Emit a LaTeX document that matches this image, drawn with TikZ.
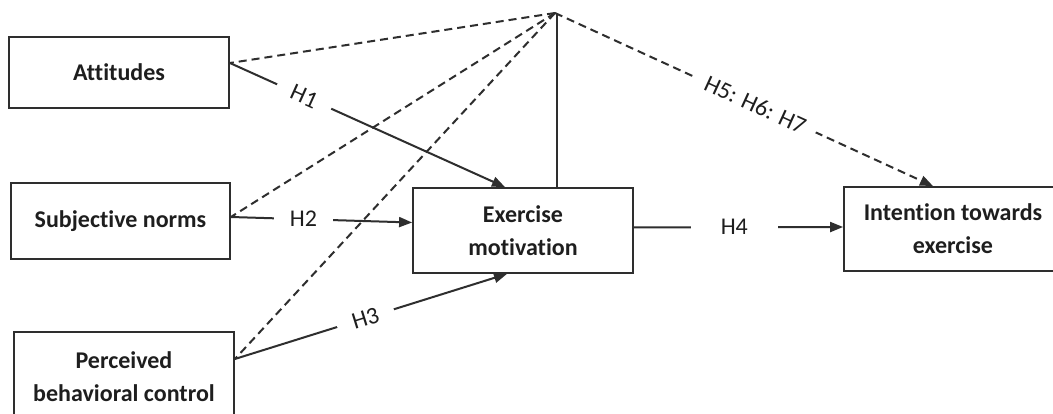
\documentclass[tikz,border=0pt]{standalone}
\usepackage{fontspec}
\setmainfont{Carlito}[Ligatures=NoCommon]
\usetikzlibrary{arrows.meta,calc}
\definecolor{ln}{HTML}{2E2E2E}
\definecolor{tx}{HTML}{1E1E1E}
\tikzset{
  box/.style={draw=ln, line width=1.8pt, inner sep=0pt, align=center, text=tx,
    font=\bfseries\fontsize{24}{33}\selectfont},
  solidarrow/.style={draw=ln, line width=2pt, -{Triangle[length=13pt,width=10pt]}},
  solidline/.style={draw=ln, line width=2pt},
  dashline/.style={draw=ln, line width=2pt, dash pattern=on 8pt off 5pt},
  hlabel/.style={fill=white, text=tx, font=\fontsize{24}{28}\selectfont, inner ysep=2pt},
}
\begin{document}
\begin{tikzpicture}[x=1pt,y=-1pt]
\useasboundingbox[fill=white] (0,0) rectangle (1053,414);
% boxes
\node[box, minimum width=220pt, minimum height=71pt] (att) at (119,72.5) {Attitudes};
\node[box, minimum width=219pt, minimum height=76pt] (sn) at (120.5,221) {Subjective norms};
\node[box, minimum width=220pt, minimum height=90pt] (pbc) at (124,377) {Perceived\\behavioral control};
\node[box, minimum width=220pt, minimum height=85pt] (em) at (523,230.5) {Exercise\\motivation};
\node[box, minimum width=218pt, minimum height=84pt] (int) at (953,229) {Intention towards\\exercise};
% points
\coordinate (apex) at (555,13);
\coordinate (attE) at ($(att.east)+(0,-9.5)$);
\coordinate (snE) at ($(sn.east)+(0,-4)$);
\coordinate (pbcE) at ($(pbc.east)+(0,-18)$);
\coordinate (emTop1) at ($(em.north)+(-18,0)$);
\coordinate (emTop2) at ($(em.north)+(34,0)$);
\coordinate (emWest) at ($(em.west)+(0,-8)$);
\coordinate (emBot) at ($(em.south)+(-16,0)$);
\coordinate (emE) at ($(em.east)+(0,-3)$);
\coordinate (intW) at ($(int.west)+(0,-2)$);
\coordinate (intTop) at ($(int.north)+(-20,0)$);
\coordinate (apexV) at (emTop2 |- apex);
% solid hypotheses
\draw[solidarrow] (attE) -- node[hlabel, sloped, inner xsep=16pt, pos=0.27] (h1) {H1} (emTop1);
\draw[solidarrow] (snE) -- node[hlabel, inner xsep=16pt, pos=0.4] (h2) {H2} (emWest);
\draw[solidarrow] (pbcE) -- node[hlabel, sloped, inner xsep=16pt, pos=0.48] (h3) {H3} (emBot);
\draw[solidarrow] (emE) -- node[hlabel, inner xsep=30pt, pos=0.48] (h4) {H4} (intW);
\draw[solidline] (emTop2) -- (apexV);
% dashed
\draw[dashline] (apex) -- (attE);
\draw[dashline] (apex) -- (snE);
\draw[dashline] (apex) -- (pbcE);
\draw[dashline, -{Triangle[length=13pt,width=10pt]}] (apex) -- node[hlabel, sloped, inner xsep=12pt, pos=0.53] (h5) {H5: H6: H7} (intTop);
\end{tikzpicture}
\end{document}
